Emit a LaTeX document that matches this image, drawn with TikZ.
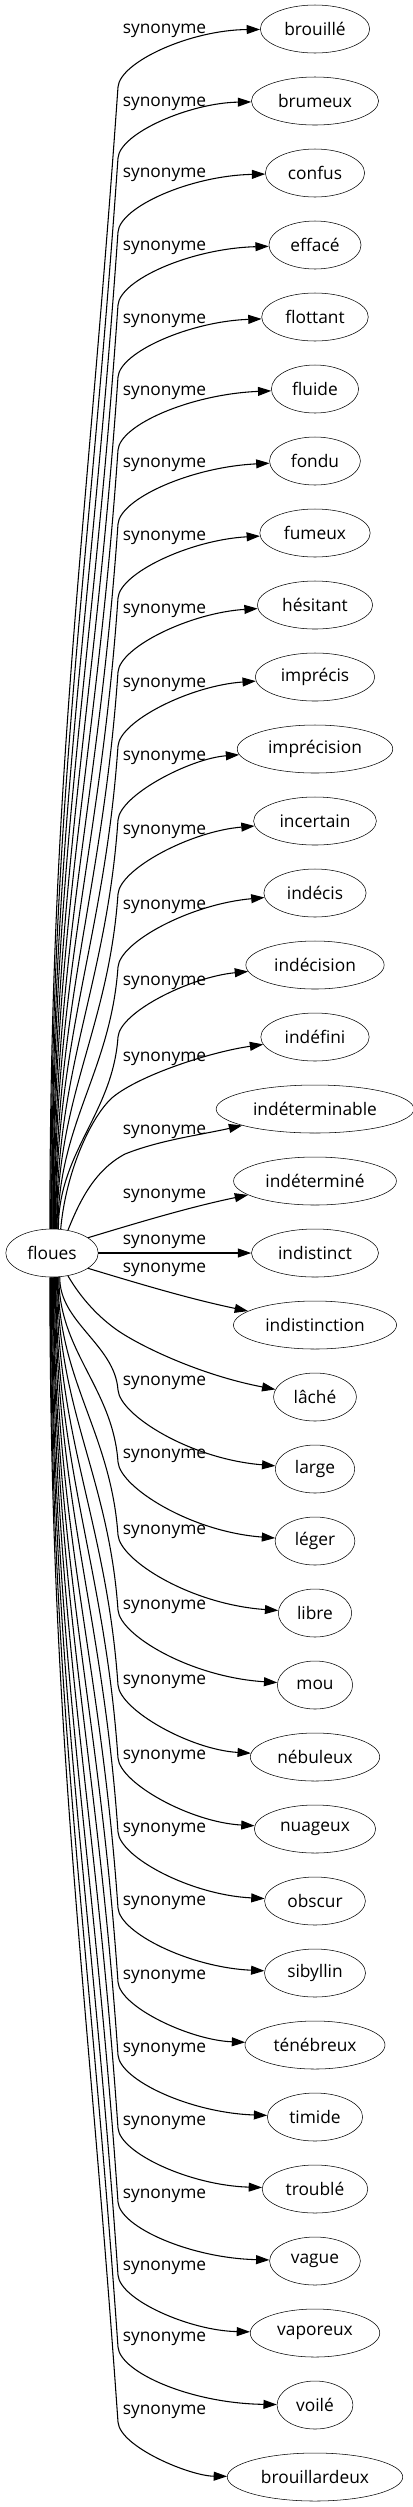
\documentclass[tikz,border=0pt]{standalone}
\usepackage{fontspec}
\setmainfont{Open Sans}
\usetikzlibrary{arrows.meta,shapes.geometric}

\tikzset{
  wordnode/.style={draw, ellipse, minimum height=36pt, minimum width=54pt,
    inner xsep=6pt, inner ysep=1pt, font=\fontsize{13pt}{15pt}\selectfont},
  synedge/.style={-{Triangle[length=10pt,width=6.7pt]}, line width=0.8pt},
  synlabel/.style={inner sep=0pt, font=\fontsize{13pt}{15pt}\selectfont},
}

\begin{document}
\begin{tikzpicture}[x=0.75pt, y=-0.75pt]
\useasboundingbox (0,0) rectangle (413,2507);

% source and synonyms
\node[wordnode] (floues) at (52,1253) {floues};
\foreach \w [count=\i from 0] in {brouillé, brumeux, confus, effacé, flottant,
  fluide, fondu, fumeux, hésitant, imprécis, imprécision, incertain, indécis,
  indécision, indéfini, indéterminable, indéterminé, indistinct, indistinction,
  lâché, large, léger, libre, mou, nébuleux, nuageux, obscur, sibyllin,
  ténébreux, timide, troublé, vague, vaporeux, voilé, brouillardeux}
  \node[wordnode] (t\i) at (315,{29+72*\i}) {\w};

% edge labels
\foreach \ly [count=\i from 0] in {31,104,175,248,321,393,465,538,611,685,758,
  832,907,983,1059,1132,1196,1242,1270,1383,1456,1532,1607,1682,1757,1830,1903,
  1977,2050,2123,2196,2268,2339,2412}
  \node[synlabel] (l\i) at (164.5,\ly) {synonyme};

% upper edges
\foreach \d [count=\i from 0] in {58,57,59,60,60,61,63,65,67,69,71,73,74,72}{
  \pgfmathsetmacro\yt{29+72*\i}
  \pgfmathsetmacro\yb{\yt+\d}
  \pgfmathtruncatemacro\a{95-20*\i/13}
  \pgfmathsetmacro\m{0.4*(1229-\yb)}
  \pgfmathsetmacro\xs{50+8*\i/13}
  \draw[synedge] (floues.\a) .. controls (\xs,{1229-\m}) and ({118-0.07*\m},{\yb+\m})
    .. (118,\yb) .. controls (120,{\yb-25}) and (190,{\yt+1+0.85*\i}) .. (t\i);
}
\draw[synedge] (floues.70) .. controls (66,1170) and (92,1115) .. (113,1097)
  .. controls (140,1075) and (210,1052) .. (t14);
\draw[synedge] (floues.55) .. controls (80,1200) and (95,1170) .. (125,1154)
  .. controls (160,1140) and (200,1135) .. (t15);
\draw[synedge] (floues.23) .. controls (140,1222) and (190,1207) .. (t16);
\draw[synedge] (floues) -- (t17);
\draw[synedge] (floues.337) .. controls (140,1284) and (190,1299) .. (t18);
\draw[synedge] (floues.305) .. controls (82,1300) and (100,1318) .. (117,1330)
  .. controls (140,1346) and (200,1375) .. (t19);

% lower edges
\foreach \d [count=\i from 20] in {79,79,78,75,72,71,69,65,63,62,61,59,58,58,55}{
  \pgfmathsetmacro\yt{29+72*\i}
  \pgfmathsetmacro\yb{\yt-\d}
  \pgfmathtruncatemacro\a{288-23*(\i-20)/14}
  \pgfmathsetmacro\m{0.4*(\yb-1277)}
  \pgfmathsetmacro\xs{59-9*(\i-20)/14}
  \draw[synedge] (floues.\a) .. controls (\xs,{1277+\m}) and ({118-0.07*\m},{\yb-\m})
    .. (118,\yb) .. controls (120,{\yb+25}) and (190,{\yt-10+9*(\i-20)/14}) .. (t\i);
}
\end{tikzpicture}
\end{document}
